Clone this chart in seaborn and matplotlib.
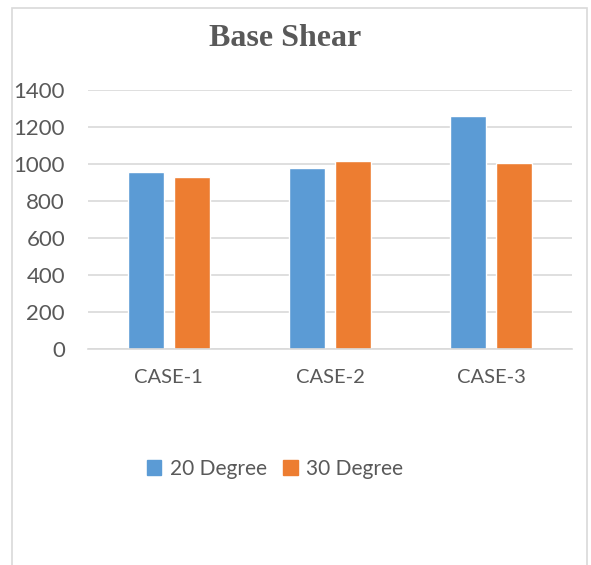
import matplotlib
matplotlib.use("Agg")
import matplotlib.pyplot as plt
import seaborn as sns
import pandas as pd
from matplotlib.patches import Rectangle

categories = ["CASE-1", "CASE-2", "CASE-3"]
deg20 = [955, 978, 1259]
deg30 = [930, 1016, 1007]
series = ["20 Degree", "30 Degree"]
yticks = [0, 200, 400, 600, 800, 1000, 1200, 1400]

df = pd.DataFrame({
    "case": categories * 2,
    "value": deg20 + deg30,
    "series": [series[0]] * 3 + [series[1]] * 3,
})

sns.set_style("white")
plt.rcParams["font.family"] = ["Lato", "DejaVu Sans"]

W, H = 591, 565
fig = plt.figure(figsize=(W / 100, H / 100), dpi=100)
ax = fig.add_axes([88 / W, 1 - 349 / H, (572 - 88) / W, (349 - 90) / H])

palette = {"20 Degree": "#5B9BD5", "30 Degree": "#ED7D31"}
sns.barplot(data=df, x="case", y="value", hue="series", palette=palette,
            width=0.57, gap=0.217, ax=ax, legend=False, saturation=1)

ax.set_ylim(0, 1400)
ax.set_xlim(-0.5, 2.5)
ax.set_yticks(yticks)
ax.set_yticklabels([str(t) for t in yticks])
ax.yaxis.grid(True, color="#d9d9d9", linewidth=1.2)
ax.set_axisbelow(True)
for s in ["top", "right", "left"]:
    ax.spines[s].set_visible(False)
ax.spines["bottom"].set_color("#d9d9d9")
ax.spines["bottom"].set_linewidth(1.2)
ax.tick_params(axis="both", length=0, labelcolor="#595959")
ax.tick_params(axis="y", pad=16.5, labelsize=16)
ax.tick_params(axis="x", pad=14.5, labelsize=14.5)
ax.set_xlabel("")
ax.set_ylabel("")

fig.text(285 / W, 1 - 39 / H, "Base Shear", ha="center", va="center",
         fontsize=23, fontweight="bold", color="#595959",
         family=["Liberation Serif", "DejaVu Serif"])

# legend
handles = [Rectangle((0, 0), 1, 1, color=palette[s]) for s in series]
fig.legend(handles, series, loc="center", bbox_to_anchor=(275 / W, 1 - 469 / H),
           ncol=2, frameon=False, fontsize=15, labelcolor="#595959",
           handlelength=0.7, handleheight=0.7, handletextpad=0.4, columnspacing=0.8)

# chart frame
fig.patches.append(Rectangle((12 / W, -0.05), (587 - 12) / W, 1.05 - 8 / H,
                             transform=fig.transFigure, fill=False,
                             edgecolor="#d9d9d9", linewidth=1.2))

fig.savefig("out.png", dpi=100)
